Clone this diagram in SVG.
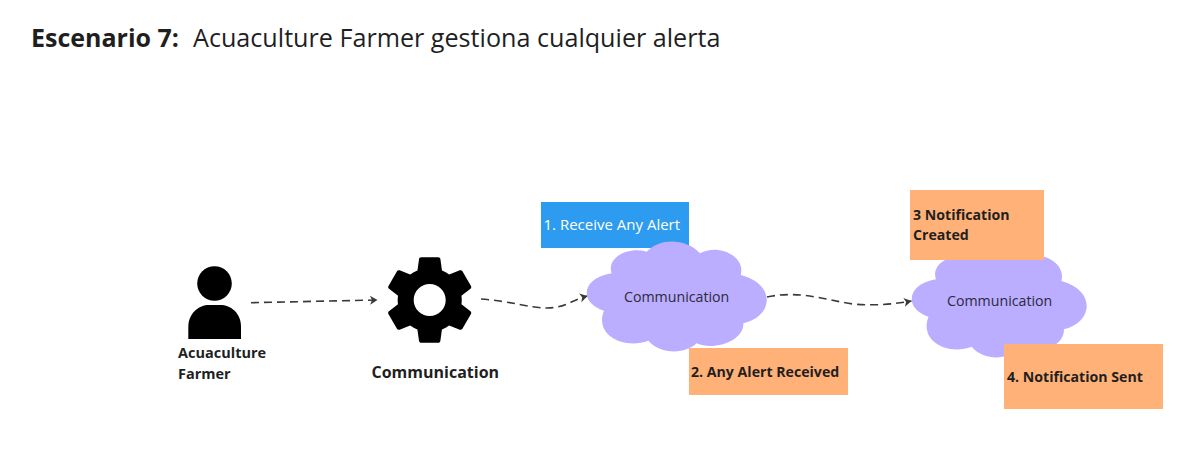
<svg xmlns="http://www.w3.org/2000/svg" width="1197" height="458" viewBox="0 0 1197 458">
<style>
text{font-family:"Open Sans","Noto Sans","DejaVu Sans",sans-serif;fill:#1f1f1f}
.b{font-weight:700;font-size:14.150px}
.a{font-weight:700;font-size:14.500px}
.lg{font-size:16px;font-weight:700}
.c{font-size:14.200px;fill:#2b2b3a}
.note{fill:#ffb178}
.cloud{fill:#bbadff}
.conn{fill:none;stroke:#3a3a3a;stroke-width:1.600;stroke-dasharray:8 5;marker-end:url(#arr)}
</style>
<defs>
<marker id="arr" markerUnits="userSpaceOnUse" markerWidth="10" markerHeight="12" refX="8" refY="6" orient="auto"><path d="M0.500 1.500 L8 6 L0.500 10.500 L2.500 6Z" fill="#3a3a3a"/></marker>
<path id="cl" d="M611.700 273.300C606 258 628 246 646.700 251.700C662 236 688 240 700 253.300C718 243 746 256 740.700 275C776 284 774 316 743.300 323.300C744 341 714 351 696.700 343.300C684 355 660 354 648.300 340.700C624 350 594 335 604 310.700C578 302 582 278 611.700 273.300Z"/>
</defs>
<g id="title"><text x="31" y="47" font-size="25" font-weight="700">Escenario 7:</text><text x="193" y="47" font-size="25.150">Acuaculture Farmer gestiona cualquier alerta</text></g>
<g id="connectors">
<path class="conn" d="M251 302.700L377.500 300"/>
<path class="conn" d="M481 299C510 301 530 308 547 308C565 308 572 300 587.500 296"/>
<path class="conn" d="M767 297C800 290 825 300 853 304C875 306 895 304 911.500 301"/>
</g>
<g id="actor">
<circle cx="214.500" cy="283.500" r="17.300"/>
<path d="M188.300 339V327C188.300 313 199 305 209 305H220C231 305 241 313 241 327V339Z"/>
<text class="a" x="178" y="358">Acuaculture</text><text class="a" x="178" y="379">Farmer</text>
</g>
<g id="gear">
<path fill-rule="evenodd" transform="translate(376.300 246.600) scale(4.45 4.45)" d="M19.140 12.940c.04-.3.06-.61.06-.94 0-.32-.02-.64-.07-.94l2.030-1.580c.18-.14.23-.41.12-.61l-1.920-3.320c-.12-.22-.37-.29-.59-.22l-2.390.96c-.5-.38-1.030-.7-1.620-.94l-.36-2.540c-.04-.24-.24-.41-.48-.41h-3.840c-.24 0-.43.17-.47.41l-.36 2.540c-.59.24-1.130.57-1.620.94l-2.390-.96c-.22-.08-.47 0-.59.22L2.740 8.870c-.12.21-.08.47.12.61l2.030 1.580c-.05.3-.09.63-.09.94s.02.64.07.94l-2.030 1.580c-.18.14-.23.41-.12.61l1.920 3.320c.12.22.37.29.59.22l2.390-.96c.5.38 1.030.7 1.620.94l.36 2.540c.05.24.24.41.48.41h3.840c.24 0 .44-.17.47-.41l.36-2.540c.59-.24 1.130-.56 1.620-.94l2.390.96c.22.08.47 0 .59-.22l1.920-3.320c.12-.22.07-.47-.12-.61l-2.010-1.580zM12 15.600c-1.980 0-3.600-1.620-3.600-3.600s1.620-3.600 3.600-3.600 3.600 1.620 3.600 3.600-1.620 3.600-3.600 3.600z"/>
<text class="lg" x="371.500" y="378">Communication</text>
</g>
<g id="step1"><rect x="541" y="202" width="148" height="46" fill="#2d9bf0"/><text x="543.500" y="230" font-size="15" style="fill:#fff">1. Receive Any Alert</text></g>
<g id="cloud1"><use href="#cl" class="cloud"/><text class="c" x="624" y="302">Communication</text></g>
<g id="step2"><rect class="note" x="689" y="348" width="159" height="47"/><text class="b" x="691" y="377">2. Any Alert Received</text></g>
<g id="cloud2"><use href="#cl" class="cloud" transform="translate(911.700 304) scale(.972 1) translate(-586.700 -298)"/><text class="c" x="947" y="306">Communication</text></g>
<g id="step3"><rect class="note" x="910" y="190" width="134" height="70"/><text class="b" x="913" y="220">3 Notification</text><text class="b" x="913" y="240">Created</text></g>
<g id="step4"><rect class="note" x="1004" y="344" width="159" height="65"/><text class="b" x="1007" y="382">4. Notification Sent</text></g>
</svg>
